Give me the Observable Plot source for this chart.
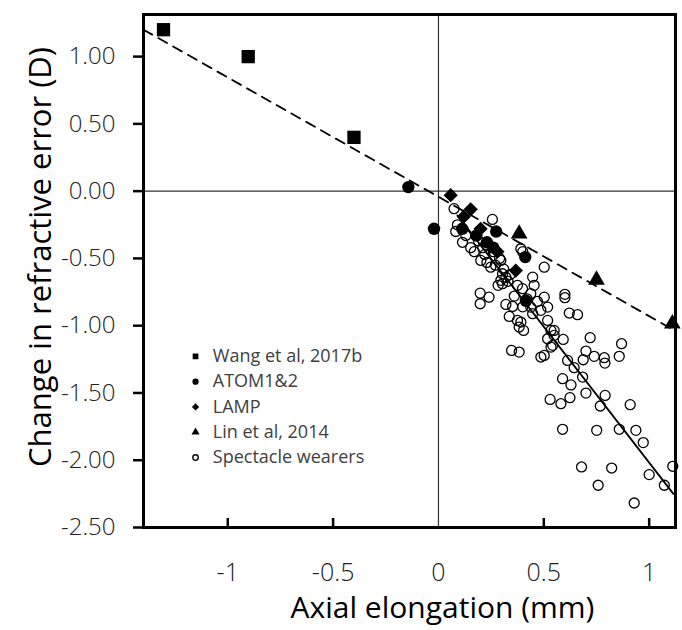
<!DOCTYPE html>
<html>
<head>
<meta charset="utf-8">
<script src="https://cdn.jsdelivr.net/npm/d3@7"></script>
<script src="https://cdn.jsdelivr.net/npm/@observablehq/plot@0.6"></script>
<style>
  html, body { margin: 0; padding: 0; background: #fff; }
  #chart svg { display: block; }
</style>
</head>
<body>
<div id="chart"></div>
<script>
// ---- Data ----
const wangX = [-1.305, -0.903, -0.401];
const wangY = [1.20, 1.00, 0.40];

const atomX = [-0.143, -0.021, 0.113, 0.18, 0.23, 0.26, 0.274, 0.412, 0.415];
const atomY = [0.03, -0.28, -0.28, -0.33, -0.38, -0.42, -0.30, -0.49, -0.815];

const lampX = [0.058, 0.153, 0.12, 0.20, 0.28, 0.367];
const lampY = [-0.03, -0.135, -0.19, -0.28, -0.45, -0.59];

const linX = [0.383, 0.75, 1.11];
const linY = [-0.317, -0.66, -0.985];

const specX = [0.074, 0.082, 0.09, 0.114, 0.13, 0.153, 0.17, 0.19, 0.201, 0.22, 0.23, 0.248, 0.256, 0.27, 0.29, 0.296, 0.304, 0.283, 0.296, 0.32, 0.304, 0.31, 0.33, 0.34, 0.26, 0.21,
  0.391, 0.40, 0.502, 0.447, 0.454, 0.399, 0.375, 0.438, 0.502, 0.486, 0.447, 0.438, 0.518, 0.518, 0.534, 0.549, 0.518, 0.534, 0.549, 0.542, 0.47, 0.40, 0.42, 0.36,
  0.198, 0.240, 0.198, 0.320, 0.352, 0.336, 0.383, 0.404, 0.391, 0.375, 0.347, 0.383, 0.486, 0.502,
  0.600, 0.600, 0.621, 0.660, 0.720, 0.592, 0.700, 0.739, 0.787, 0.790, 0.869, 0.858, 0.687, 0.613, 0.644, 0.684, 0.589, 0.629,
  0.530, 0.581, 0.624, 0.700, 0.768, 0.791, 0.910, 0.589, 0.751, 0.858, 0.937, 0.972, 0.679, 0.822, 0.758, 0.929, 1.000, 1.072, 1.112];
const specY = [-0.13, -0.30, -0.25, -0.38, -0.33, -0.42, -0.45, -0.37, -0.515, -0.47, -0.53, -0.565, -0.21, -0.55, -0.50, -0.515, -0.614, -0.70, -0.663, -0.64, -0.688, -0.58, -0.67, -0.62, -0.45, -0.42,
  -0.428, -0.45, -0.565, -0.639, -0.70, -0.725, -0.70, -0.762, -0.788, -0.886, -0.911, -0.862, -0.862, -0.961, -1.035, -1.072, -1.097, -1.159, -1.035, -1.146, -0.82, -0.86, -0.80, -0.78,
  -0.758, -0.788, -0.837, -0.842, -0.857, -0.931, -1.010, -1.035, -0.973, -0.961, -1.184, -1.196, -1.233, -1.221,
  -0.767, -0.792, -0.906, -0.918, -1.089, -1.102, -1.189, -1.228, -1.238, -1.278, -1.134, -1.228, -1.253, -1.258, -1.312, -1.382, -1.394, -1.440,
  -1.548, -1.580, -1.535, -1.501, -1.597, -1.518, -1.587, -1.770, -1.778, -1.770, -1.778, -1.869, -2.050, -2.058, -2.186, -2.318, -2.107, -2.186, -2.045];

// fit lines (end points)
const dashX = [-1.40, 1.125];
const dashY = [1.20, -1.04];
const solidX = [0.09, 1.115];
const solidY = [-0.18, -2.25];

const xTicks = [-1, -0.5, 0, 0.5, 1];
const xTickLabels = ["-1", "-0.5", "0", "0.5", "1"];
const yTicks = [-2.5, -2, -1.5, -1, -0.5, 0, 0.5, 1];
const yTickLabels = ["-2.50", "-2.00", "-1.50", "-1.00", "-0.50", "0.00", "0.50", "1.00"];

const legendLabels = ["Wang et al, 2017b", "ATOM1&2", "LAMP", "Lin et al, 2014", "Spectacle wearers"];
const legendSymbols = ["square", "circle", "diamond2", "triangle", "circle"];
const legendFill = ["black", "black", "black", "black", "none"];
const legendR = [5.8, 5.4, 6.0, 5.0, 4.3];

const xDomain = [-1.4, 1.125];
const yDomain = [-2.5, 1.313];

// ---- build tables ----
const zip = (xs, ys) => xs.map((x, i) => ({x, y: ys[i]}));
const wang = zip(wangX, wangY), atom = zip(atomX, atomY), lamp = zip(lampX, lampY),
      lin = zip(linX, linY), spec = zip(specX, specY);
const dash = zip(dashX, dashY), solid = zip(solidX, solidY);

// legend rows placed in data space
const legX = -1.153, legTextX = -1.071, legY0 = -1.228, legStep = 0.188;
const legend = legendLabels.map((label, i) => ({label, symbol: legendSymbols[i], fill: legendFill[i], r: legendR[i], x: legX, tx: legTextX, y: legY0 - i * legStep}));

const FONT = "'Open Sans', 'Noto Sans', sans-serif";

const chart = Plot.plot({
  width: 682,
  height: 630,
  marginLeft: 143,
  marginRight: 7,
  marginTop: 14,
  marginBottom: 103,
  style: {fontFamily: FONT, background: "#fff", overflow: "visible"},
  x: {domain: xDomain},
  y: {domain: yDomain},
  marks: [
    Plot.ruleX([0], {stroke: "#333", strokeWidth: 1.2}),
    Plot.ruleY([0], {stroke: "#333", strokeWidth: 1.2}),
    Plot.line(dash, {x: "x", y: "y", stroke: "black", strokeWidth: 1.8, strokeDasharray: "10,7"}),
    Plot.line(solid, {x: "x", y: "y", stroke: "black", strokeWidth: 1.8}),
    Plot.dot(wang, {x: "x", y: "y", symbol: "square", r: 7.5, fill: "black", stroke: "none"}),
    Plot.dot(atom, {x: "x", y: "y", symbol: "circle", r: 6.2, fill: "black", stroke: "none"}),
    Plot.dot(lamp, {x: "x", y: "y", symbol: "diamond2", r: 6.4, fill: "black", stroke: "none"}),
    Plot.dot(lin, {x: "x", y: "y", symbol: "triangle", r: 6.2, fill: "black", stroke: "none"}),
    Plot.dot(spec, {x: "x", y: "y", symbol: "circle", r: 5, fill: "none", stroke: "black", strokeWidth: 1.3}),
    // legend
    Plot.dot(legend, {x: "x", y: "y", symbol: d => d.symbol, r: "r", fill: d => d.fill, stroke: "black", strokeWidth: d => d.fill === "none" ? 1.3 : 0}),
    Plot.text(legend, {x: "tx", y: "y", text: "label", textAnchor: "start", fontSize: 18, fill: "#404040", fontFamily: FONT}),
    // inward x ticks
    Plot.ruleX(xTicks.filter(d => d !== 0), {x: d => d, insetTop: 504, stroke: "black", strokeWidth: 2.5}),
    Plot.axisX({ticks: xTicks, tickFormat: d => xTickLabels[xTicks.indexOf(d)], tickSize: 0, tickPadding: 36, fontSize: 25, fontWeight: 300, label: null, fill: "#222"}),
    Plot.axisY({ticks: yTicks, tickFormat: d => yTickLabels[yTicks.indexOf(d)], tickSize: 10, tickPadding: 18, fontSize: 24, fontWeight: 300, label: null, strokeWidth: 2.5, fill: "#222"}),
    Plot.frame({stroke: "black", strokeWidth: 3}),
    Plot.text(["Axial elongation (mm)"], {frameAnchor: "bottom", lineAnchor: "middle", dy: 81, dx: 33, fontSize: 30, fill: "black", fontFamily: FONT}),
    Plot.text(["Change in refractive error (D)"], {frameAnchor: "left", textAnchor: "middle", lineAnchor: "middle", dx: -102, dy: -14, rotate: -90, fontSize: 31, fill: "black", fontFamily: FONT})
  ]
});
document.getElementById("chart").appendChild(chart);
</script>
</body>
</html>
